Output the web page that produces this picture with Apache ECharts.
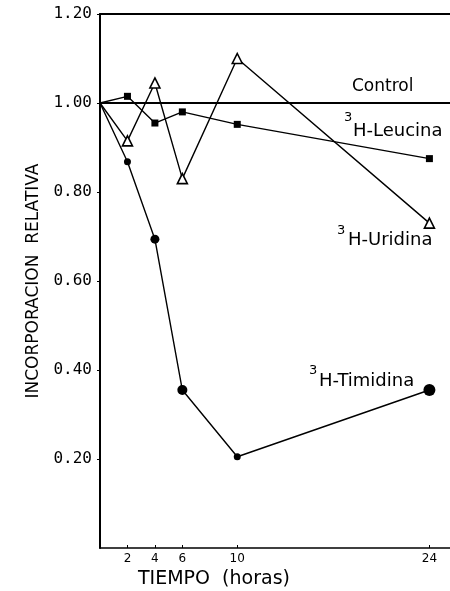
<!DOCTYPE html>
<html>
<head>
<meta charset="utf-8">
<script src="https://cdn.jsdelivr.net/npm/echarts@6/dist/echarts.min.js"></script>
<style>
html,body{margin:0;padding:0;background:#fff;}
#c{width:450px;height:591px;}
</style>
</head>
<body>
<div id="c"></div>
<script>
// Data
const times = [0, 2, 4, 6, 10, 24];
const leucina = [1.00, 1.015, 0.955, 0.98, 0.952, 0.875];
const uridina = [1.00, 0.915, 1.045, 0.83, 1.10, 0.73];
const timidina = [1.00, 0.868, 0.694, 0.355, 0.205, 0.355];
const controlTimes = [0, 25.5];
const controlValues = [1.00, 1.00];
const xTickValues = [2, 4, 6, 10, 24];
const yTickValues = [0.2, 0.4, 0.6, 0.8, 1.0, 1.2];

const chart = echarts.init(document.getElementById('c'), null, {renderer: 'canvas'});
const F = 'DejaVu Sans';

function pts(vals, sizes) {
  return times.map((t, i) => {
    const o = {value: [t, vals[i]]};
    if (i === 0) o.symbol = 'none';
    if (sizes && sizes[i]) o.symbolSize = sizes[i];
    return o;
  });
}

const option = {
  animation: false,
  backgroundColor: '#fff',
  grid: {left: 100, right: 0, top: 14, bottom: 43},
  xAxis: [{
    type: 'value', min: 0, max: 25.5, position: 'bottom',
    axisLine: {show: true, lineStyle: {color: '#000', width: 1.5}},
    axisTick: {show: true, inside: true, length: 3, customValues: xTickValues, lineStyle: {color: '#000'}},
    axisLabel: {show: true, customValues: xTickValues, color: '#000', fontFamily: F, fontSize: 12, margin: 5},
    splitLine: {show: false}
  }, {
    type: 'value', min: 0, max: 25.5, position: 'top',
    axisLine: {show: true, onZero: false, lineStyle: {color: '#000', width: 1.8}},
    axisTick: {show: false}, axisLabel: {show: false}, splitLine: {show: false}
  }],
  yAxis: {
    type: 'value', min: 0, max: 1.2,
    name: 'INCORPORACION  RELATIVA', nameLocation: 'middle', nameGap: 56,
    nameTextStyle: {color: '#000', fontFamily: F, fontSize: 17},
    axisLine: {show: true, lineStyle: {color: '#000', width: 2}},
    axisTick: {show: true, length: 3, customValues: yTickValues, lineStyle: {color: '#000'}},
    axisLabel: {show: true, customValues: yTickValues, color: '#000', fontFamily: 'DejaVu Sans Mono', fontSize: 16, margin: 8,
      formatter: v => v.toFixed(2)},
    splitLine: {show: false}
  },
  series: [
    {
      name: 'Control', type: 'line', symbol: 'none',
      data: controlTimes.map((t, i) => [t, controlValues[i]]),
      lineStyle: {color: '#000', width: 1.8}
    },
    {
      name: 'Leucina', type: 'line', symbol: 'rect', symbolSize: 7,
      data: pts(leucina),
      lineStyle: {color: '#000', width: 1.4},
      itemStyle: {color: '#000'}
    },
    {
      name: 'Uridina', type: 'line', symbol: 'triangle', symbolSize: 10,
      data: pts(uridina),
      lineStyle: {color: '#000', width: 1.4},
      itemStyle: {color: '#fff', borderColor: '#000', borderWidth: 1.6}
    },
    {
      name: 'Timidina', type: 'line', symbol: 'circle', symbolSize: 8,
      data: pts(timidina, [0, 7, 9, 10, 7, 12]),
      lineStyle: {color: '#000', width: 1.4},
      itemStyle: {color: '#000'}
    }
  ],
  graphic: [
    {type: 'text', left: 138, top: 570, style: {text: 'TIEMPO  (horas)', font: '19px "DejaVu Sans"', fill: '#000'}},
    {type: 'text', left: 352, top: 78, style: {text: 'Control', font: '17px "DejaVu Sans"', fill: '#000'}},
    {type: 'text', left: 344, top: 111, style: {text: '3', font: '13px "DejaVu Sans"', fill: '#000'}},
    {type: 'text', left: 353, top: 122, style: {text: 'H-Leucina', font: '18px "DejaVu Sans"', fill: '#000'}},
    {type: 'text', left: 337, top: 224, style: {text: '3', font: '13px "DejaVu Sans"', fill: '#000'}},
    {type: 'text', left: 348, top: 231, style: {text: 'H-Uridina', font: '18px "DejaVu Sans"', fill: '#000'}},
    {type: 'text', left: 309, top: 364, style: {text: '3', font: '13px "DejaVu Sans"', fill: '#000'}},
    {type: 'text', left: 319, top: 372, style: {text: 'H-Timidina', font: '18px "DejaVu Sans"', fill: '#000'}}
  ]
};
chart.setOption(option);
</script>
</body>
</html>
